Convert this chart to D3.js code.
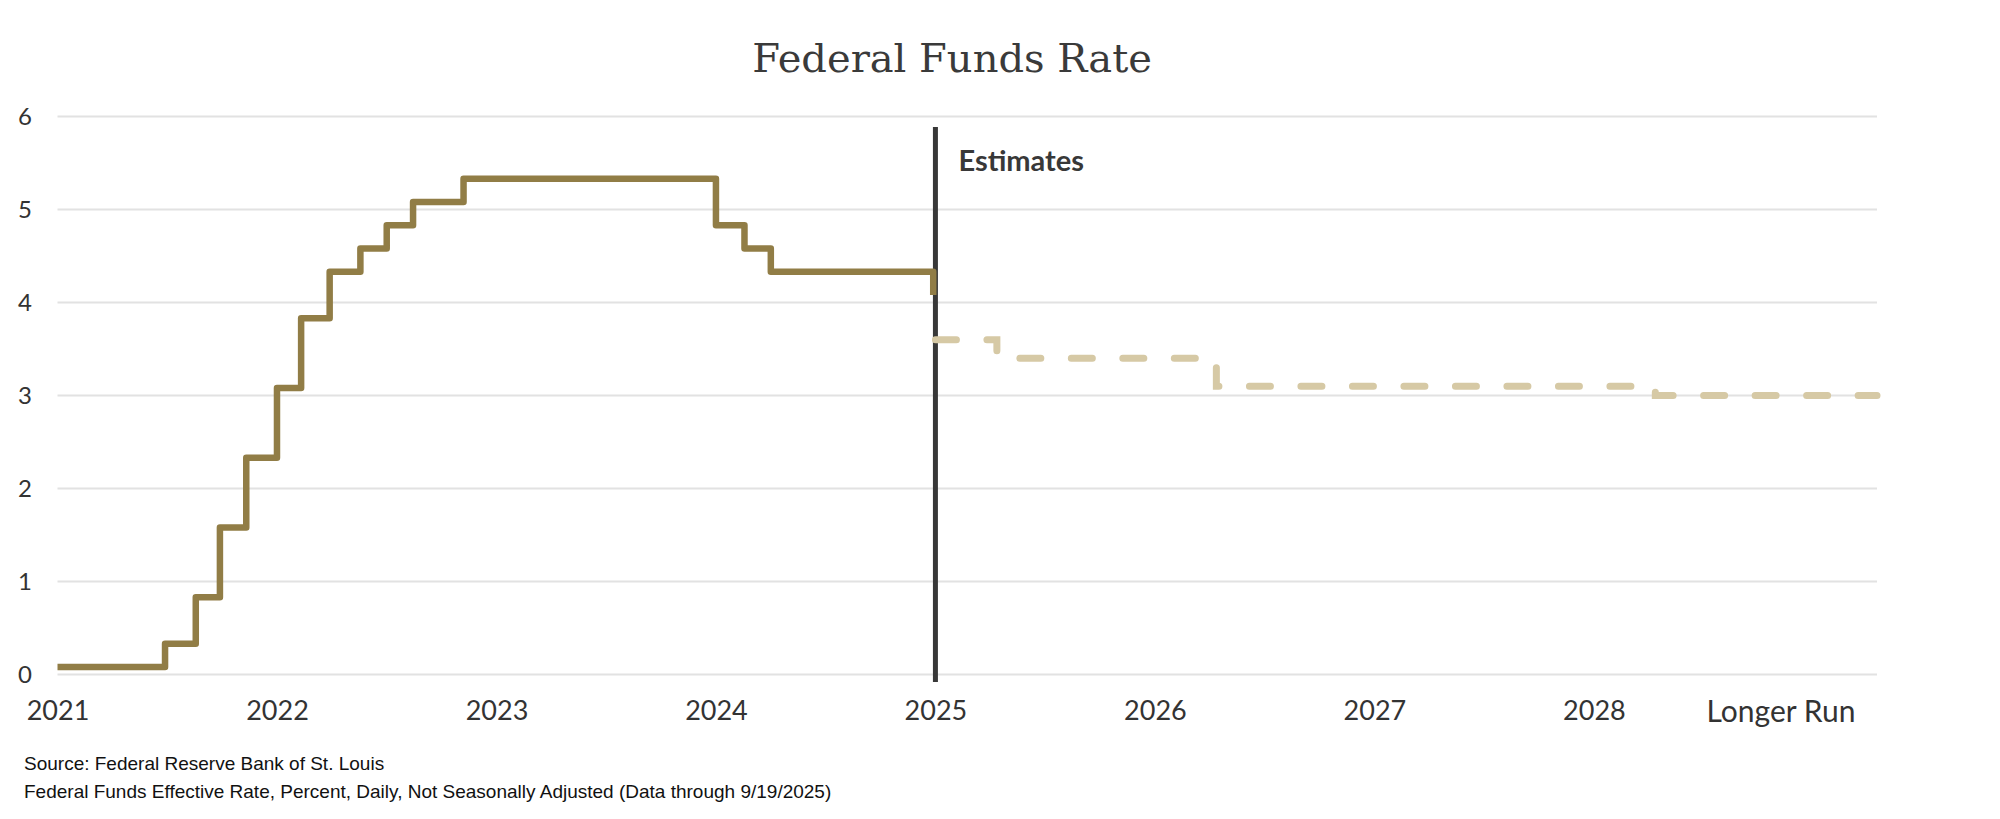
<!DOCTYPE html>
<html>
<head>
<meta charset="utf-8">
<script src="https://cdn.jsdelivr.net/npm/d3@7"></script>
<style>
  body { margin: 0; background: #fff; }
  svg { display: block; }
</style>
</head>
<body>
<svg id="chart"></svg>
<script>
// Effective rate, step changes (x = position on the chart's year axis)
const rateX = [2021.00, 2021.49, 2021.63, 2021.74, 2021.86, 2022.00, 2022.11, 2022.24, 2022.38, 2022.50, 2022.62, 2022.85, 2024.00, 2024.13, 2024.25, 2024.99];
const rateY = [0.08, 0.33, 0.83, 1.58, 2.33, 3.08, 3.83, 4.33, 4.58, 4.83, 5.08, 5.33, 4.83, 4.58, 4.33, 4.08];

// Projections after the estimates line
const estX = [2025.00, 2025.28, 2026.28, 2028.28, 2029.29];
const estY = [3.6, 3.4, 3.1, 3.0, 3.0];

// Axis ticks
const xTicks = [2021, 2022, 2023, 2024, 2025, 2026, 2027, 2028, 2028.85];
const xTickLabels = ['2021', '2022', '2023', '2024', '2025', '2026', '2027', '2028', 'Longer Run'];
const yTicks = [0, 1, 2, 3, 4, 5, 6];
const estimateStart = 2025;

const width = 2000;
const height = 819;
const margin = { top: 116.5, right: 123, bottom: 144, left: 57.5 };

const svg = d3.select('#chart')
  .attr('width', width)
  .attr('height', height);

const x = d3.scaleLinear()
  .domain([2021, 2029.29])
  .range([margin.left, width - margin.right]);

const y = d3.scaleLinear()
  .domain([0, 6])
  .range([height - margin.bottom - 0.5, margin.top]);

// gridlines
svg.append('g')
  .selectAll('line')
  .data(yTicks)
  .enter()
  .append('line')
  .attr('x1', x.range()[0])
  .attr('x2', x.range()[1])
  .attr('y1', d => y(d))
  .attr('y2', d => y(d))
  .attr('stroke', '#e2e2e2')
  .attr('stroke-width', 2);

// y labels
const yAxis = d3.axisLeft(y)
  .tickValues(yTicks)
  .tickFormat(d3.format('d'))
  .tickSize(0)
  .tickPadding(0);
svg.append('g')
  .attr('transform', 'translate(32,0)')
  .call(yAxis)
  .call(g => g.select('.domain').remove())
  .selectAll('text')
  .attr('font-family', 'Lato, sans-serif')
  .attr('font-size', 24)
  .attr('fill', '#333');

// x labels
const xAxis = d3.axisBottom(x)
  .tickValues(xTicks)
  .tickFormat((d, i) => xTickLabels[i])
  .tickSize(0)
  .tickPadding(0);
svg.append('g')
  .attr('transform', 'translate(0,701)')
  .call(xAxis)
  .call(g => g.select('.domain').remove())
  .selectAll('text')
  .attr('font-family', 'Lato, sans-serif')
  .attr('font-size', (d, i) => i === xTicks.length - 1 ? 30 : 27)
  .attr('fill', '#333');

// estimates divider
svg.append('line')
  .attr('x1', x(estimateStart))
  .attr('x2', x(estimateStart))
  .attr('y1', 127)
  .attr('y2', 682)
  .attr('stroke', '#383838')
  .attr('stroke-width', 5);

svg.append('text')
  .attr('x', x(estimateStart) + 23)
  .attr('y', 171)
  .attr('font-family', 'Lato, sans-serif')
  .attr('font-weight', 700)
  .attr('font-size', 29)
  .attr('fill', '#383838')
  .text('Estimates');

const stepLine = d3.line()
  .x(d => x(d[0]))
  .y(d => y(d[1]))
  .curve(d3.curveStepAfter);

// projection (dashed)
svg.append('path')
  .datum(d3.zip(estX, estY))
  .attr('d', stepLine)
  .attr('fill', 'none')
  .attr('stroke', '#d6c9a5')
  .attr('stroke-width', 7)
  .attr('stroke-linecap', 'round')
  .attr('stroke-dasharray', '21,30.5');

// effective rate
svg.append('path')
  .datum(d3.zip(rateX, rateY))
  .attr('d', stepLine)
  .attr('fill', 'none')
  .attr('stroke', '#917d46')
  .attr('stroke-width', 6.5)
  .attr('stroke-linejoin', 'round');

// title
svg.append('text')
  .attr('x', 952)
  .attr('y', 72)
  .attr('text-anchor', 'middle')
  .attr('font-family', 'DejaVu Serif, serif')
  .attr('font-size', 40)
  .attr('fill', '#3a3a3a')
  .text('Federal Funds Rate');

// source notes
svg.append('text')
  .attr('x', 24)
  .attr('y', 770)
  .attr('font-family', 'Liberation Sans, Arial, sans-serif')
  .attr('font-size', 19)
  .attr('fill', '#111')
  .text('Source: Federal Reserve Bank of St. Louis');

svg.append('text')
  .attr('x', 24)
  .attr('y', 798)
  .attr('font-family', 'Liberation Sans, Arial, sans-serif')
  .attr('font-size', 19)
  .attr('fill', '#111')
  .text('Federal Funds Effective Rate, Percent, Daily, Not Seasonally Adjusted (Data through 9/19/2025)');
</script>
</body>
</html>
